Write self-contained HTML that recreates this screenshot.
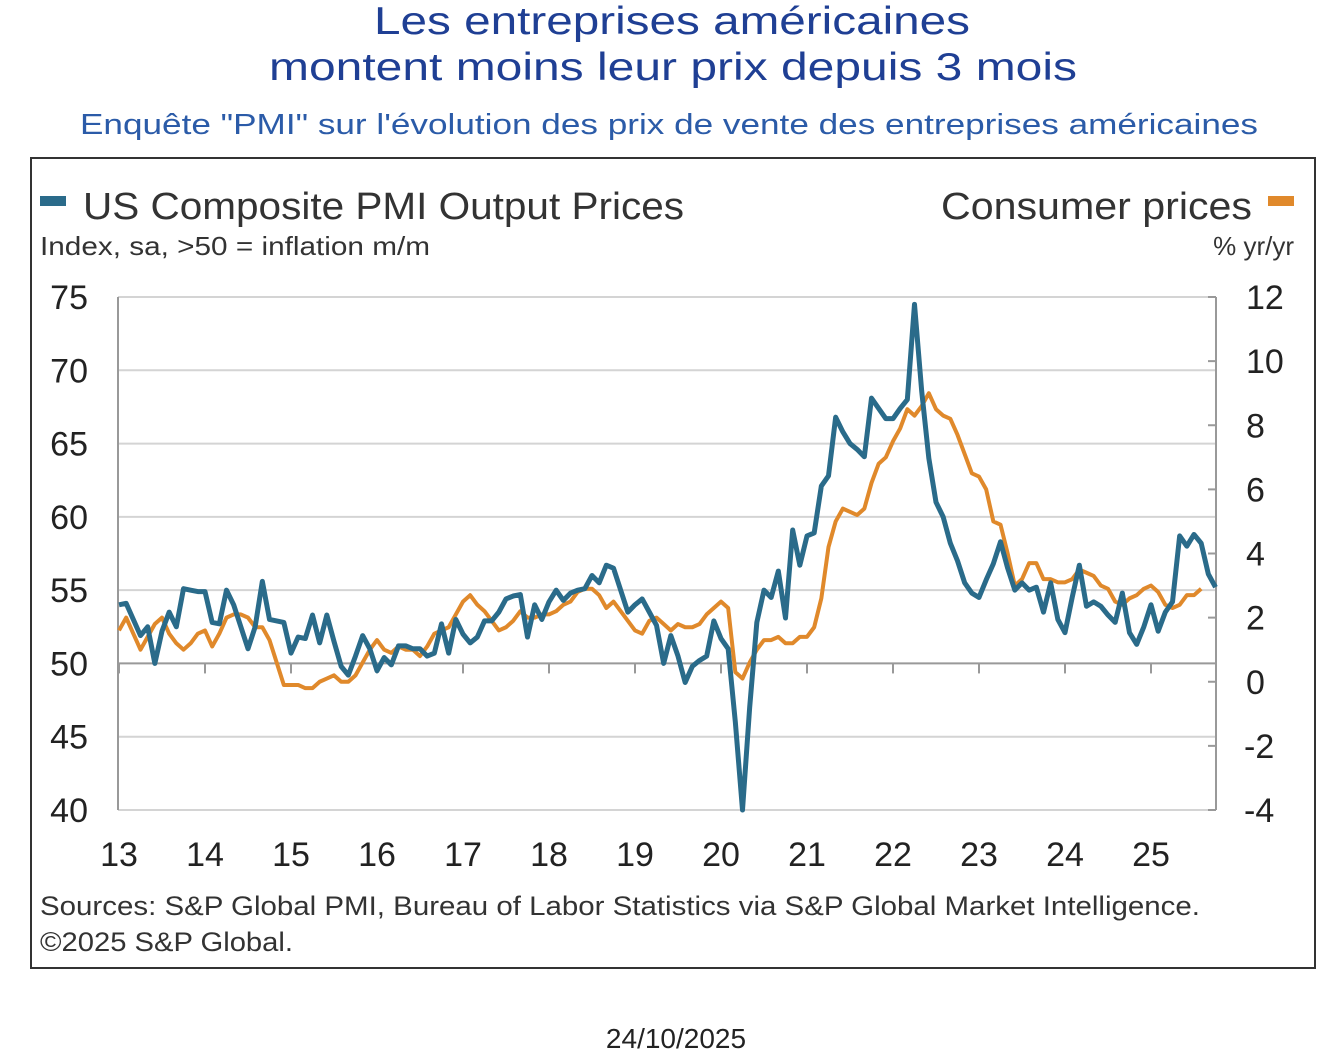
<!DOCTYPE html>
<html><head><meta charset="utf-8"><style>
body{margin:0;width:1344px;height:1058px;background:#fff;font-family:"Liberation Sans",sans-serif;overflow:hidden}
svg{display:block}
</style></head><body>
<svg width="1344" height="1058">
<text x="374" y="34" textLength="596" lengthAdjust="spacingAndGlyphs" font-size="39" fill="#1f3f94">Les entreprises américaines</text>
<text x="269" y="80" textLength="808" lengthAdjust="spacingAndGlyphs" font-size="39" fill="#1f3f94">montent moins leur prix depuis 3 mois</text>
<text x="80" y="134" textLength="1178" lengthAdjust="spacingAndGlyphs" font-size="29" fill="#2b5ba8">Enquête "PMI" sur l'évolution des prix de vente des entreprises américaines</text>
<rect x="31" y="158" width="1284" height="810" fill="none" stroke="#333" stroke-width="2"/>
<rect x="40" y="196" width="26" height="10" fill="#2a6b8a"/>
<text x="83" y="219" textLength="601" lengthAdjust="spacingAndGlyphs" font-size="38" fill="#333">US Composite PMI Output Prices</text>
<text x="40" y="255" textLength="390" lengthAdjust="spacingAndGlyphs" font-size="26" fill="#333">Index, sa, &gt;50 = inflation m/m</text>
<text x="941" y="219" textLength="311" lengthAdjust="spacingAndGlyphs" font-size="38" fill="#333">Consumer prices</text>
<rect x="1268" y="196" width="26" height="10" fill="#e0892b"/>
<text x="1294" y="255" text-anchor="end" font-size="26" fill="#333">% yr/yr</text>
<g id="grid"></g><g id="axes"></g><g id="series"></g>
<text x="40" y="915" textLength="1160" lengthAdjust="spacingAndGlyphs" font-size="27" fill="#333">Sources: S&amp;P Global PMI, Bureau of Labor Statistics via S&amp;P Global Market Intelligence.</text>
<text x="40" y="951" textLength="253" lengthAdjust="spacingAndGlyphs" font-size="27" fill="#333">©2025 S&amp;P Global.</text>
<text x="676" y="1048" text-anchor="middle" font-size="28" fill="#222">24/10/2025</text>
</svg>
<script>
const leftTicks=[40,45,50,55,60,65,70,75];
const rightTicks=[-4,-2,0,2,4,6,8,10,12];
const yearLabels=["13","14","15","16","17","18","19","20","21","22","23","24","25"];
const pmi=[54,54.1,53,51.9,52.5,50,52.2,53.5,52.5,55.1,55,54.9,54.9,52.8,52.7,55,54,52.5,51,52.5,55.6,53,52.9,52.8,50.7,51.8,51.7,53.3,51.4,53.3,51.5,49.8,49.2,50.5,51.9,51,49.5,50.4,49.9,51.2,51.2,51,51,50.5,50.7,52.7,50.7,53,52,51.4,51.8,52.9,52.9,53.5,54.4,54.6,54.7,51.8,54,53,54.2,55,54.3,54.8,55,55.1,56,55.5,56.7,56.5,55,53.5,54,54.4,53.5,52.6,50,51.9,50.5,48.7,49.8,50.2,50.5,52.9,51.7,51,46,40,47,52.8,55,54.5,56.3,53.1,59.1,56.7,58.7,58.9,62.1,62.8,66.8,65.8,65,64.6,64.1,68.1,67.4,66.7,66.7,67.4,68,74.5,68.6,64,61,60,58.2,57,55.5,54.8,54.5,55.7,56.8,58.3,56.5,55,55.5,55,55.2,53.5,55.5,53,52.1,54.5,56.7,53.9,54.2,53.9,53.3,52.8,54.8,52.1,51.3,52.5,54,52.2,53.5,54.2,58.7,58,58.8,58.2,56.1,55.2];
const cpi=[1.6,2.0,1.5,1.0,1.4,1.8,2.0,1.5,1.2,1.0,1.2,1.5,1.6,1.1,1.5,2.0,2.1,2.1,2.0,1.7,1.7,1.3,0.6,-0.1,-0.1,-0.1,-0.2,-0.2,0.0,0.1,0.2,0.0,0.0,0.2,0.6,1.0,1.3,1.0,0.9,1.1,1.0,1.0,0.8,1.1,1.5,1.6,1.7,2.1,2.5,2.7,2.4,2.2,1.9,1.6,1.7,1.9,2.2,2.0,2.0,2.1,2.1,2.2,2.4,2.5,2.8,2.9,2.9,2.7,2.3,2.5,2.2,1.9,1.6,1.5,1.9,2.0,1.8,1.6,1.8,1.7,1.7,1.8,2.1,2.3,2.5,2.3,0.3,0.1,0.6,1.0,1.3,1.3,1.4,1.2,1.2,1.4,1.4,1.7,2.6,4.2,5.0,5.4,5.3,5.2,5.4,6.2,6.8,7.0,7.5,7.9,8.5,8.3,8.6,9.0,8.5,8.3,8.2,7.7,7.1,6.5,6.4,6.0,5.0,4.9,4.0,3.0,3.2,3.7,3.7,3.2,3.2,3.1,3.1,3.2,3.5,3.4,3.3,3.0,2.9,2.5,2.4,2.6,2.7,2.9,3.0,2.8,2.4,2.3,2.4,2.7,2.7,2.9];
const NS="http://www.w3.org/2000/svg";
const X0=118,X1=1216,YT=297,YB=810;
const xm=m=>119+m*86/12;
const yl=v=>YB-(v-40)/35*(YB-YT);
const yr=v=>YB-(v+4)/16*(YB-YT);
function mk(t,a,p){const e=document.createElementNS(NS,t);for(const k in a)e.setAttribute(k,a[k]);p.appendChild(e);return e;}
const grid=document.getElementById('grid'),axes=document.getElementById('axes'),ser=document.getElementById('series');
leftTicks.forEach(v=>{
 const l=mk('line',{x1:X0,x2:X1,y1:yl(v),y2:yl(v),stroke:v===50?'#999':'#d4d4d4','stroke-width':2},grid);
 
 
 const t=mk('text',{x:88,y:yl(v)+12,'text-anchor':'end','font-size':34,fill:'#222'},axes);
 t.textContent=v;
 
 
});
rightTicks.forEach(v=>{
 const l=mk('line',{x1:X1-8,x2:X1,y1:yr(v),y2:yr(v),stroke:'#999','stroke-width':2},axes);
 
 
 const t=mk('text',{x:v<0?1244:1246,y:yr(v)+12,'font-size':34,fill:'#222'},axes);
 t.textContent=v;
 
 
});
const la=mk('line',{x1:X0,x2:X0,y1:YT,y2:YB,stroke:'#999','stroke-width':2},axes);


const ra=mk('line',{x1:X1,x2:X1,y1:YT,y2:YB,stroke:'#999','stroke-width':2},axes);


yearLabels.forEach((s,i)=>{
 const x=xm(i*12);
 const tk=mk('line',{x1:x,x2:x,y1:yl(50),y2:yl(50)+10,stroke:'#999','stroke-width':2},axes);
 
 
 const t=mk('text',{x:x,y:866,'text-anchor':'middle','font-size':34,fill:'#222'},axes);
 t.textContent=s;
 
 
});
const p1=mk('polyline',{points:cpi.map((v,i)=>xm(i)+','+yr(v)).join(' '),fill:'none',stroke:'#e0892b','stroke-width':4,'stroke-linejoin':'round'},ser);


const p2=mk('polyline',{points:pmi.map((v,i)=>xm(i)+','+yl(v)).join(' '),fill:'none',stroke:'#2a6b8a','stroke-width':5,'stroke-linejoin':'round'},ser);


</script>
</body></html>
